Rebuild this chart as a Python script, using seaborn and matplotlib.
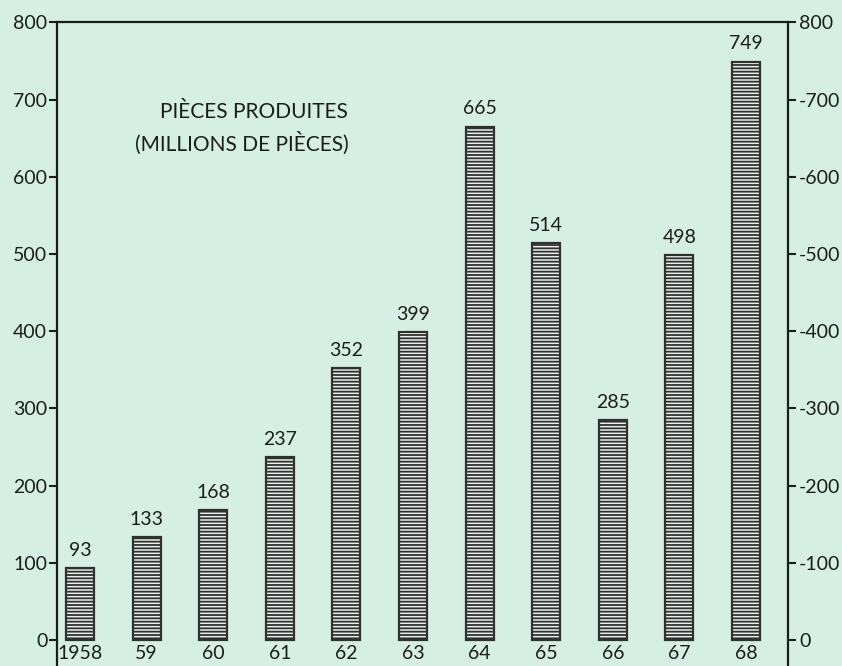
import pandas as pd
import matplotlib.pyplot as plt
import seaborn as sns

# production data
years = ['1958', '59', '60', '61', '62', '63', '64', '65', '66', '67', '68']
pieces = [93, 133, 168, 237, 352, 399, 665, 514, 285, 498, 749]
y_ticks = [0, 100, 200, 300, 400, 500, 600, 700, 800]

df = pd.DataFrame({'year': years, 'pieces': pieces})

bg = '#d6efe4'
ink = '#1c1c1c'

sns.set_style('white')
plt.rcParams['font.family'] = ['Lato', 'DejaVu Sans']
plt.rcParams['hatch.linewidth'] = 1.3

fig = plt.figure(figsize=(8.42, 6.66), dpi=100)
fig.patch.set_facecolor(bg)
ax = fig.add_axes([57 / 842, -0.005, (788 - 57) / 842, 647 / 666])
ax.set_facecolor(bg)

sns.barplot(data=df, x='year', y='pieces', order=years, width=0.42,
            color='#e8f2ee', edgecolor='#303030', linewidth=1.6, ax=ax)
for p in ax.patches:
    p.set_hatch('-----')

ymin = -38
ax.set_ylim(ymin, 800)
ax.set_xlim(-0.345, 10.63)

# value labels above bars and year labels under them
for i, v in enumerate(pieces):
    ax.text(i, v + 12, str(v), ha='center', va='bottom', fontsize=14, color=ink)
    ax.text(i, -18, years[i], ha='center', va='center', fontsize=14, color=ink)

ax.set_xticks([])
ax.set_xlabel('')
ax.set_ylabel('')
ax.set_yticks(y_ticks)
ax.set_yticklabels([str(t) for t in y_ticks])
ax.tick_params(axis='y', direction='out', length=6, width=1.5, pad=1,
               labelsize=14, colors=ink, left=True)

for side in ['left', 'top', 'right', 'bottom']:
    ax.spines[side].set_visible(True)
    ax.spines[side].set_color(ink)
    ax.spines[side].set_linewidth(1.6)

ax2 = ax.twinx()
ax2.set_ylim(ymin, 800)
ax2.set_yticks(y_ticks)
ax2.set_yticklabels(['0'] + ['-' + str(t) if t != 800 else str(t) for t in y_ticks[1:]])
ax2.tick_params(axis='y', direction='out', length=6, width=1.5, pad=2,
                labelsize=14, colors=ink)
for side in ['left', 'top', 'right', 'bottom']:
    ax2.spines[side].set_visible(False)

ax.text(1.2, 684, 'PIÈCES PRODUITES', ha='left', va='center', fontsize=15, color=ink)
ax.text(0.83, 643, '(MILLIONS DE PIÈCES)', ha='left', va='center', fontsize=15, color=ink)

fig.savefig('out.png', dpi=100, facecolor=bg)
